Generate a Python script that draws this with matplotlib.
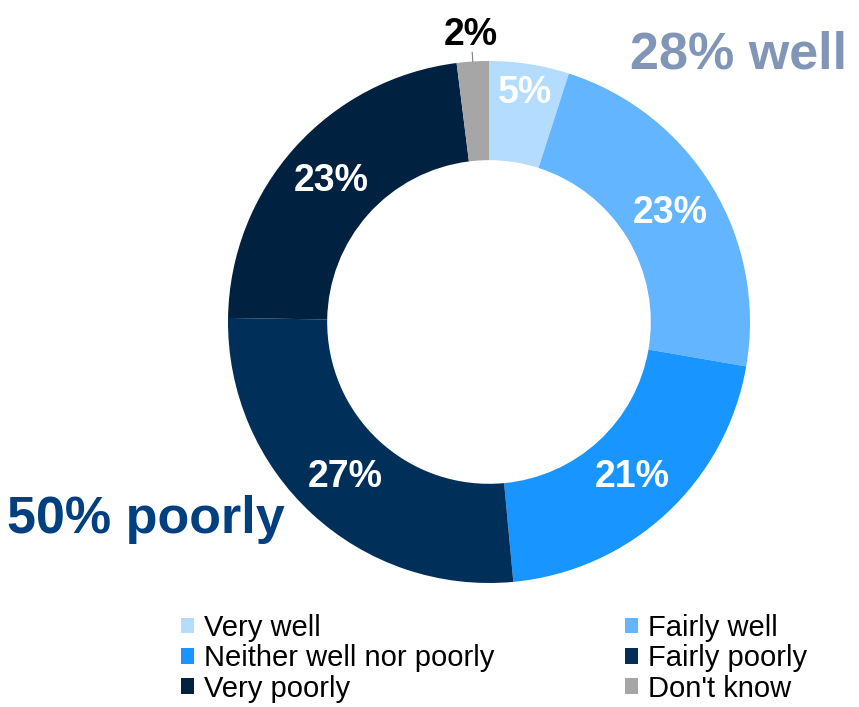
import matplotlib.pyplot as plt
import numpy as np
from matplotlib.patches import Patch

plt.rcParams['font.family'] = ['Liberation Sans', 'DejaVu Sans']

# answer shares, clockwise from the top
categories = ["Very well", "Fairly well", "Neither well nor poorly",
              "Fairly poorly", "Very poorly", "Don't know"]
values = [5, 23, 21, 27, 23, 2]
colors = ["#b3dcff", "#64b5ff", "#1995ff", "#002f5a", "#002240", "#a6a6a6"]
label_colors = ["white", "white", "white", "white", "white", "black"]

W, H = 859, 707
fig = plt.figure(figsize=(W / 100, H / 100), dpi=100)
ax = fig.add_axes([0, 0, 1, 1])

cx, cy = 489, H - 322
R = 261
ring = 0.38

wedges, _ = ax.pie(values, colors=colors, startangle=90, counterclock=False,
                   radius=R, center=(cx, cy),
                   wedgeprops=dict(width=R * ring, linewidth=0))
# pixel-like data space over the whole figure
ax.set_xlim(0, W)
ax.set_ylim(0, H)
ax.set_aspect('equal')
ax.axis('off')

# percentage labels in the ring, the small ones pushed outward
dist = [0.89, 0.81, 0.81, 0.81, 0.81, 1.10]
for w, v, c, d in zip(wedges, values, label_colors, dist):
    mid = np.deg2rad((w.theta1 + w.theta2) / 2)
    x = cx + d * R * np.cos(mid)
    y = cy + d * R * np.sin(mid)
    ax.text(x, y, f"{v}%", color=c, fontsize=27, fontweight='bold',
            ha='center', va='center')

# short leader for the "Don't know" label
w = wedges[-1]
mid = np.deg2rad((w.theta1 + w.theta2) / 2)
ax.plot([cx + R * np.cos(mid) * 1.0, cx + R * np.cos(mid) * 1.035],
        [cy + R * np.sin(mid) * 1.0, cy + R * np.sin(mid) * 1.035],
        color="#808080", lw=0.8)

ax.text(630, H - 55, "28% well", color="#8196b6", fontsize=37.5,
        fontweight='bold', ha='left', va='center')
ax.text(7, H - 520, "50% poorly", color="#004080", fontsize=37.5,
        fontweight='bold', ha='left', va='center')

handles = [Patch(facecolor=c, label=l) for c, l in zip(colors, categories)]
order = [0, 2, 4, 1, 3, 5]
fig.legend([handles[i] for i in order], [categories[i] for i in order],
           ncol=2, loc='upper left', bbox_to_anchor=(181 / W, 1 - 614 / H),
           frameon=False, fontsize=21, handlelength=0.45, handleheight=0.45,
           handletextpad=0.35, labelspacing=0.08, columnspacing=4.45,
           borderpad=0, borderaxespad=0)

fig.savefig("out.png", dpi=100)
